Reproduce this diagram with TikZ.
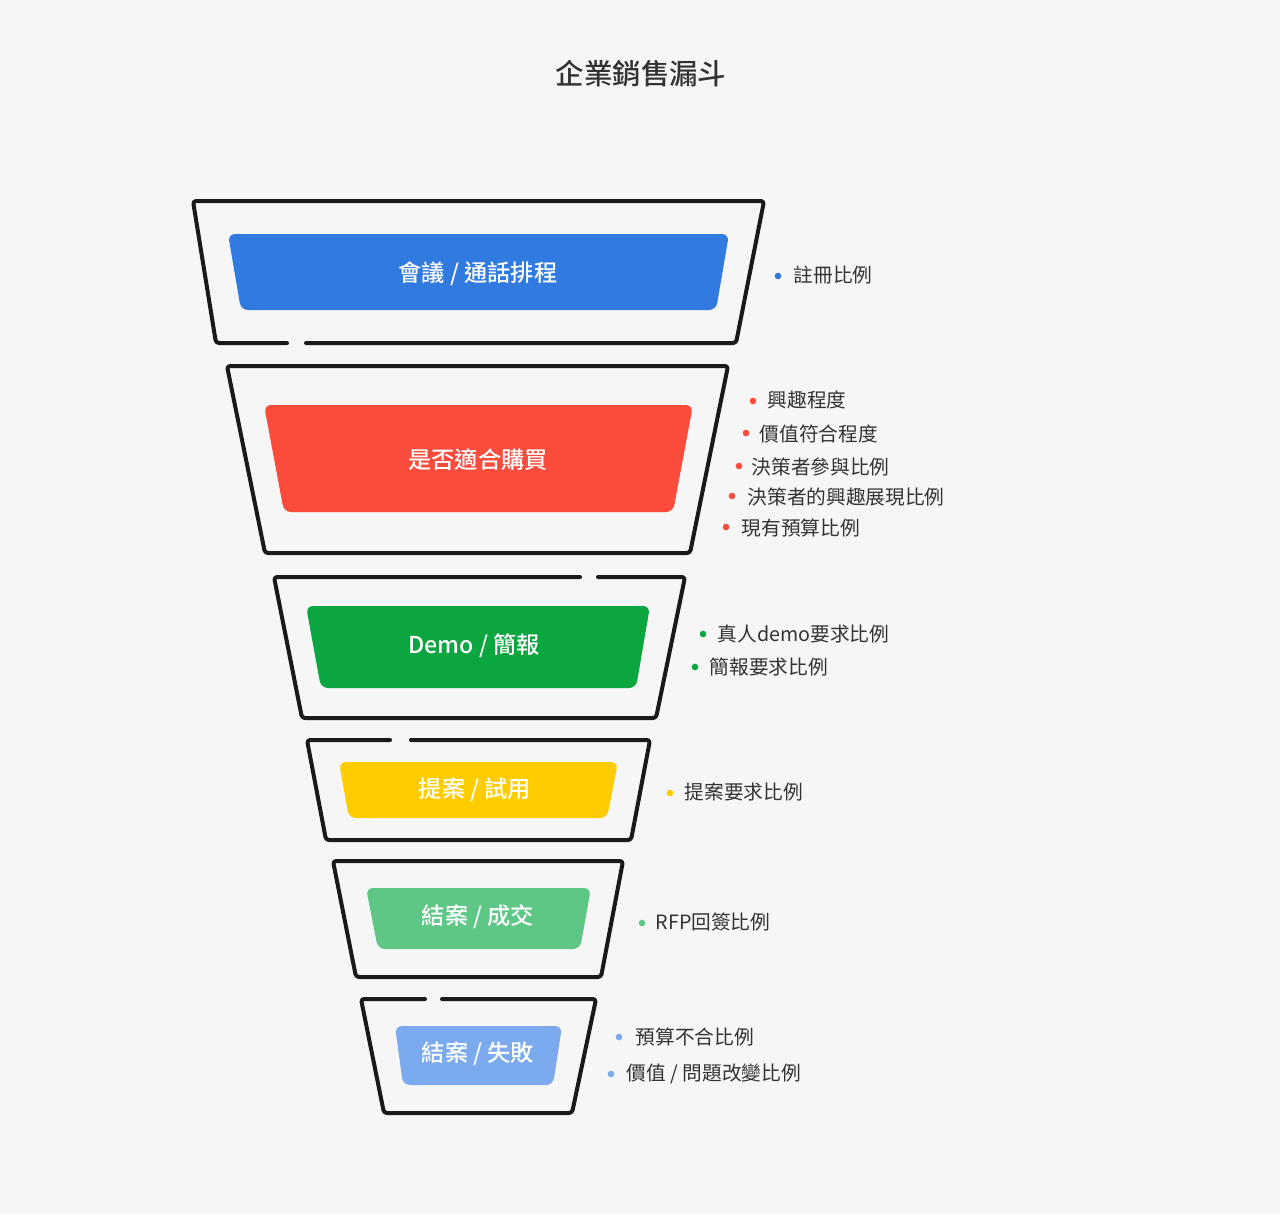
\documentclass[tikz,border=0pt]{standalone}
\usepackage{fontspec}
\newfontfamily\cjk{Noto Sans CJK TC}
\newfontfamily\cjkmed{Noto Sans CJK TC Medium}

\definecolor{bggray}{HTML}{F6F6F6}
\definecolor{linegray}{HTML}{1A1A1A}
\definecolor{notegray}{HTML}{333333}
\definecolor{fblue}{HTML}{317AE0}
\definecolor{fred}{HTML}{FA4B3B}
\definecolor{fgreen}{HTML}{0BA640}
\definecolor{fyellow}{HTML}{FFCC00}
\definecolor{flgreen}{HTML}{5EC786}
\definecolor{flblue}{HTML}{7BAAEE}

\begin{document}
\begin{tikzpicture}[x=0.01cm, y=-0.01cm,
  outline/.style={draw=linegray, line width=0.04cm, line join=round, line cap=round, rounded corners=0.03cm},
  band/.style={rounded corners=0.07cm},
  bandtext/.style={text=white, font=\cjkmed\fontsize{6.6}{8}\selectfont},
  note/.style={text=notegray, anchor=west, inner sep=0pt, font=\cjk\fontsize{5.6}{7}\selectfont}]

% --- Fondo y marco ---
\fill[bggray] (0,0) rectangle (1280,1214);
\useasboundingbox (0,0) rectangle (1280,1214);

% --- Titulo ---
\node[text=notegray, font=\cjkmed\fontsize{8.1}{10}\selectfont] (title) at (641,74) {企業銷售漏斗};

% --- Contornos del embudo (con huecos) ---
% 1) Reunion
\draw[outline] (306,343) -- (736,343) -- (764,201) -- (193,201) -- (216,343) -- (287,343);
% 2) Compra
\draw[outline] (227,366) -- (728,366) -- (690,553) -- (265,553) -- cycle;
% 3) Demo
\draw[outline] (598,577) -- (685,577) -- (656,718) -- (302,718) -- (274,577) -- (580,577);
% 4) Propuesta
\draw[outline] (411,740) -- (650,740) -- (631,840) -- (326,840) -- (307,740) -- (390,740);
% 5) Cierre ganado
\draw[outline] (333,861) -- (623,861) -- (601,977) -- (356,977) -- cycle;
% 6) Cierre perdido
\draw[outline] (442,999) -- (596,999) -- (572,1113) -- (384,1113) -- (361,999) -- (425,999);

% --- Bandas de color ---
\fill[fblue, band]   (228,234) -- (729,234) -- (716,310) -- (241,310) -- cycle;
\fill[fred, band]    (264,405) -- (693,405) -- (673,512) -- (284,512) -- cycle;
\fill[fgreen, band]  (306,606) -- (650,606) -- (636,688) -- (321,688) -- cycle;
\fill[fyellow, band] (339,762) -- (618,762) -- (607,818) -- (349,818) -- cycle;
\fill[flgreen, band] (366,888) -- (591,888) -- (580,949) -- (378,949) -- cycle;
\fill[flblue, band]  (395,1026) -- (562,1026) -- (553,1085) -- (403,1085) -- cycle;

% --- Nombres de etapas ---
\node[bandtext] (meet)  at (478,274)  {會議 / 通話排程};
\node[bandtext] (fit)   at (478,460)  {是否適合購買};
\node[bandtext] (demo)  at (474,646)  {Demo / 簡報};
\node[bandtext] (trial) at (475,790)  {提案 / 試用};
\node[bandtext] (won)   at (478,917)  {結案 / 成交};
\node[bandtext] (lost)  at (478,1054) {結案 / 失敗};

% --- Indicadores ---
\fill[fblue] (778,276) circle (3.3);
\node[note] (reg) at (793,275) {註冊比例};

\fill[fred] (753,401) circle (3.3);
\fill[fred] (746,433) circle (3.3);
\fill[fred] (739,466) circle (3.3);
\fill[fred] (732,496) circle (3.3);
\fill[fred] (726,527) circle (3.3);
\node[note] (interest) at (767,400) {興趣程度};
\node[note] (value)    at (759,434) {價值符合程度};
\node[note] (dmjoin)   at (751,467) {決策者參與比例};
\node[note] (dmshow)   at (747,497) {決策者的興趣展現比例};
\node[note] (budget)   at (741,528) {現有預算比例};

\fill[fgreen] (703,634) circle (3.3);
\fill[fgreen] (695,667) circle (3.3);
\node[note] (live)  at (717,634) {真人demo要求比例};
\node[note] (brief) at (709,667) {簡報要求比例};

\fill[fyellow] (670,793) circle (3.3);
\node[note] (prop) at (684,792) {提案要求比例};

\fill[flgreen] (642,923) circle (3.3);
\node[note] (rfp) at (655,922) {RFP回簽比例};

\fill[flblue] (619,1037) circle (3.3);
\fill[flblue] (611,1074) circle (3.3);
\node[note] (nobudget) at (635,1037) {預算不合比例};
\node[note] (change)   at (626,1074) {價值 / 問題改變比例};

\end{tikzpicture}
\end{document}
